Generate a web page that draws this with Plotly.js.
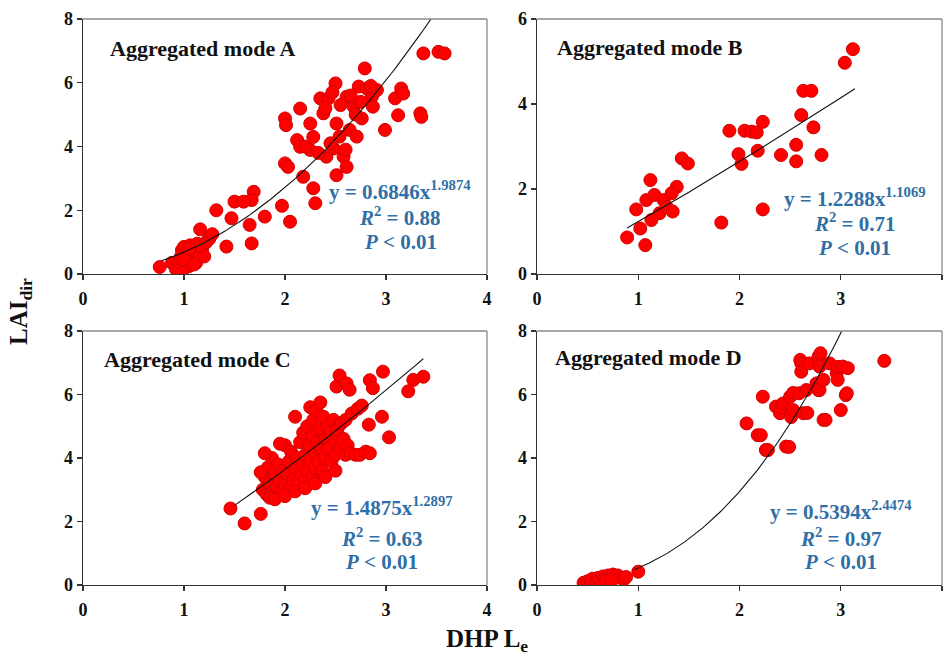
<!DOCTYPE html>
<html>
<head>
<meta charset="utf-8">
<script src="https://cdn.plot.ly/plotly-3.0.1.min.js"></script>
<style>
  html, body { margin: 0; padding: 0; background: #fff; }
  #chart { width: 945px; height: 666px; }
</style>
</head>
<body>
<div id="chart"></div>
<script>
// DHP effective LAI (Le) versus direct LAI, four aggregation modes

// Mode A
const modeA_x = [0.76, 0.88, 0.92, 0.95, 0.97, 0.98, 1.00, 1.00, 1.02, 1.03, 1.05, 1.06, 1.08, 1.10, 1.12, 1.13, 1.15, 1.18, 1.20, 1.22, 1.25, 1.28, 0.95, 1.00, 1.05, 1.10, 0.98, 1.16,
  1.32, 1.42, 1.47, 1.50, 1.65, 1.67, 1.69, 1.67, 1.59, 1.80, 1.97, 2.05, 2.00, 2.03, 2.00, 2.01, 2.15, 2.12, 2.15, 2.18, 2.25, 2.25, 2.28, 2.30,
  2.35, 2.38, 2.43, 2.41, 2.48, 2.50, 2.51, 2.51, 2.54, 2.58, 2.61, 2.61, 2.64, 2.68, 2.71, 2.73, 2.76, 2.79, 2.81, 2.86, 2.87, 2.91, 2.99,
  3.09, 3.12, 3.15, 3.17, 3.34, 3.35, 3.37, 3.52, 3.58,
  2.20, 2.28, 2.33, 2.45, 2.55, 2.65, 2.70, 2.75, 2.85, 2.40, 2.47, 2.60];
const modeA_y = [0.22, 0.35, 0.15, 0.30, 0.55, 0.75, 0.20, 0.85, 0.40, 0.65, 0.25, 0.90, 0.50, 0.70, 0.35, 0.95, 0.60, 0.80, 0.55, 1.00, 1.10, 1.25, 0.10, 0.45, 0.80, 0.30, 0.05, 1.40,
  2.00, 0.86, 1.75, 2.27, 1.54, 0.96, 2.58, 2.32, 2.27, 1.80, 2.14, 1.64, 3.47, 3.36, 4.88, 4.67, 5.19, 4.20, 3.99, 3.05, 3.89, 4.72, 2.69, 2.22,
  5.51, 5.04, 5.51, 3.68, 3.94, 5.98, 4.72, 3.10, 4.31, 3.68, 3.36, 5.56, 4.52, 5.25, 4.31, 5.88, 4.88, 6.45, 5.82, 5.56, 5.25, 5.77, 4.52,
  5.51, 4.98, 5.82, 5.66, 5.04, 4.93, 6.92, 6.97, 6.92,
  4.00, 4.30, 3.80, 4.10, 5.30, 5.60, 5.00, 5.40, 5.90, 5.20, 5.70, 3.90];

// Mode B
const modeB_x = [0.89, 1.07, 0.98, 1.02, 1.12, 1.08, 1.16, 1.21, 1.13, 1.25, 1.28, 1.34, 1.38, 1.33, 1.43, 1.49, 1.82, 1.90, 1.99, 2.02,
  2.05, 2.12, 2.17, 2.18, 2.23, 2.23, 2.41, 2.56, 2.56, 2.61, 2.63, 2.71, 2.73, 2.81, 3.04, 3.12];
const modeB_y = [0.86, 0.68, 1.52, 1.07, 2.21, 1.74, 1.86, 1.43, 1.27, 1.74, 1.58, 1.47, 2.05, 1.90, 2.72, 2.60, 1.21, 3.37, 2.82, 2.59,
  3.37, 3.35, 3.33, 2.90, 3.58, 1.52, 2.80, 3.04, 2.65, 3.74, 4.31, 4.31, 3.45, 2.80, 4.97, 5.29];

// Mode C
const modeC_x = [1.46, 1.60, 1.76,
  1.78, 1.80, 1.82, 1.83, 1.85, 1.87, 1.88, 1.90, 1.92, 1.93, 1.95, 1.96, 1.98, 2.00, 2.00, 1.80, 1.95, 1.76,
  2.02, 2.04, 2.05, 2.06, 2.08, 2.10, 2.10, 2.12, 2.13, 2.15, 2.16, 2.18, 2.18, 2.20, 2.20, 2.22, 2.22, 2.24, 2.25, 2.25,
  2.27, 2.27, 2.28, 2.30, 2.30, 2.31, 2.32, 2.33, 2.35, 2.35, 2.36, 2.37, 2.38, 2.40, 2.40,
  2.42, 2.43, 2.45, 2.46, 2.48, 2.50, 2.50, 2.52, 2.55, 2.56, 2.58, 2.60, 2.60, 2.62, 2.65, 2.66, 2.70, 2.74, 2.80, 2.84,
  2.72, 2.76, 2.83, 2.96, 3.03,
  2.51, 2.54, 2.61, 2.64, 2.84, 2.87, 2.97, 3.22, 3.27, 3.37,
  1.85, 1.90, 2.00, 2.10, 2.20, 2.30, 2.40, 2.50];
const modeC_y = [2.41, 1.94, 2.24,
  3.00, 3.40, 2.85, 3.70, 3.20, 4.00, 2.95, 3.50, 3.10, 3.80, 3.30, 2.90, 3.60, 3.15, 4.40, 4.15, 4.45, 3.55,
  3.50, 3.90, 3.00, 4.20, 3.30, 3.70, 5.30, 4.00, 3.20, 4.50, 3.50, 4.80, 3.80, 4.10, 3.30, 5.00, 3.60, 4.40, 5.60, 3.90,
  4.70, 3.40, 5.20, 4.20, 3.70, 5.50, 4.50, 3.90, 4.90, 5.75, 4.30, 3.60, 5.30, 4.60, 4.00,
  5.00, 4.30, 4.80, 3.90, 5.20, 4.50, 4.10, 4.90, 4.30, 5.10, 4.60, 4.10, 5.20, 4.40, 4.15, 5.40, 4.10, 4.10, 4.20, 4.15,
  5.55, 5.65, 5.05, 5.30, 4.65,
  6.25, 6.60, 6.35, 6.15, 6.45, 6.20, 6.72, 6.10, 6.46, 6.56,
  2.75, 2.70, 2.80, 2.95, 3.05, 3.20, 3.40, 3.60];

// Mode D
const modeD_x = [0.46, 0.50, 0.53, 0.55, 0.58, 0.60, 0.62, 0.65, 0.67, 0.70, 0.72, 0.75, 0.78, 0.80, 0.83, 0.86, 0.88, 0.68, 0.74, 1.00,
  2.07, 2.18, 2.21, 2.23, 2.26, 2.28, 2.36, 2.40, 2.41, 2.43, 2.46, 2.49, 2.50, 2.51, 2.53, 2.53, 2.59, 2.60, 2.61, 2.61, 2.63,
  2.66, 2.67, 2.69, 2.76, 2.78, 2.78, 2.79, 2.79, 2.80, 2.83, 2.83, 2.85, 2.89, 2.96, 2.97, 2.97, 3.00, 3.02, 3.05, 3.06, 3.07, 3.43];
const modeD_y = [0.07, 0.12, 0.10, 0.20, 0.15, 0.22, 0.18, 0.27, 0.20, 0.30, 0.25, 0.33, 0.28, 0.30, 0.22, 0.18, 0.25, 0.12, 0.15, 0.42,
  5.09, 4.72, 4.72, 5.93, 4.25, 4.25, 5.62, 5.41, 5.60, 5.72, 4.36, 4.35, 5.93, 5.29, 5.51, 6.05, 6.04, 7.09, 6.98, 6.72, 5.41,
  6.14, 5.42, 6.98, 6.35, 7.19, 6.14, 6.88, 6.14, 7.30, 5.20, 6.46, 5.20, 6.98, 6.67, 6.87, 6.46, 5.51, 6.88, 5.98, 6.04, 6.83, 7.06];

// Power-law fits y = a * x^b : [a, b], and the x span each curve covers
const fitCoef = { A: [0.6846, 1.9874], B: [1.2288, 1.1069], C: [1.4875, 1.2897], D: [0.5394, 2.4474] };
const fitSpan = { A: [0.78, 3.45], B: [0.89, 3.14], C: [1.50, 3.37], D: [0.95, 3.01] };
const r2Text = { A: '0.88', B: '0.71', C: '0.63', D: '0.97' };

const panelNames = ['A', 'B', 'C', 'D'];
const panelData = { A: [modeA_x, modeA_y], B: [modeB_x, modeB_y], C: [modeC_x, modeC_y], D: [modeD_x, modeD_y] };
const axisSuffix = { A: '', B: '2', C: '3', D: '4' };

const serif = "'Liberation Serif', 'Times New Roman', serif";
const eqBlue = '#2f6fa6';

function fitCurve(k) {
  const [a, b] = fitCoef[k];
  const [x0, x1] = fitSpan[k];
  const xs = [], ys = [];
  const n = 120;
  for (let i = 0; i <= n; i++) {
    const x = x0 + (x1 - x0) * i / n;
    xs.push(x);
    ys.push(a * Math.pow(x, b));
  }
  return [xs, ys];
}

const traces = [];
panelNames.forEach(k => {
  const s = axisSuffix[k];
  traces.push({
    type: 'scatter', mode: 'markers',
    x: panelData[k][0], y: panelData[k][1],
    xaxis: 'x' + s, yaxis: 'y' + s,
    marker: { color: '#ff0000', size: 13, line: { color: '#d40000', width: 1 } },
    hoverinfo: 'x+y', showlegend: false
  });
  const [cx, cy] = fitCurve(k);
  traces.push({
    type: 'scatter', mode: 'lines',
    x: cx, y: cy,
    xaxis: 'x' + s, yaxis: 'y' + s,
    line: { color: '#111', width: 1.1 },
    hoverinfo: 'skip', showlegend: false
  });
});

// panel frames in pixel space
const W = 945, H = 666;
const colX = [[83, 487], [537, 942]];
const rowY = [[19, 274], [331, 585]];
const yMax = { A: 8, B: 6, C: 8, D: 8 };

function axisCommon() {
  return {
    range: [0, 4], tickvals: [0, 1, 2, 3, 4], ticktext: ['0', '1', '2', '3', '4'],
    showgrid: false, zeroline: false, showline: true, linecolor: '#333', linewidth: 1.4,
    ticks: 'outside', ticklen: 5, tickwidth: 1.2, tickcolor: '#333',
    tickfont: { family: serif, size: 18, color: '#111', weight: 'bold' },
    ticklabelstandoff: 3, fixedrange: true
  };
}

const layout = {
  width: W, height: H,
  margin: { l: 0, r: 0, t: 0, b: 0 },
  paper_bgcolor: '#fff', plot_bgcolor: '#fff',
  showlegend: false,
  annotations: [], shapes: []
};

panelNames.forEach((k, i) => {
  const s = axisSuffix[k];
  const col = colX[i % 2], row = rowY[Math.floor(i / 2)];
  const xa = axisCommon();
  xa.domain = [col[0] / W, col[1] / W];
  xa.anchor = 'y' + s;
  const ya = axisCommon();
  ya.range = [0, yMax[k]];
  ya.tickvals = [];
  ya.ticktext = [];
  for (let v = 0; v <= yMax[k]; v += 2) { ya.tickvals.push(v); ya.ticktext.push(String(v)); }
  ya.domain = [1 - row[1] / H, 1 - row[0] / H];
  ya.anchor = 'x' + s;
  ya.ticklabelstandoff = 0;
  layout['xaxis' + s] = xa;
  layout['yaxis' + s] = ya;

  // light top and right frame edges
  layout.shapes.push({ type: 'line', xref: 'x' + s + ' domain', yref: 'y' + s + ' domain', x0: 0, x1: 1, y0: 1, y1: 1, line: { color: '#8a8a8a', width: 1.3 } });
  layout.shapes.push({ type: 'line', xref: 'x' + s + ' domain', yref: 'y' + s + ' domain', x0: 1, x1: 1, y0: 0, y1: 1, line: { color: '#8a8a8a', width: 1.3 } });
});

// panel labels and fit statistics
const titlePos = { A: [0.25, 7.08], B: [0.18, 5.34], C: [0.19, 7.09], D: [0.16, 7.15] };
const statPos = {
  A: [3.14, 2.63, 1.79, 1.00],
  B: [3.14, 1.81, 1.20, 0.61],
  C: [2.96, 2.46, 1.51, 0.72],
  D: [3.00, 2.36, 1.51, 0.72]
};
panelNames.forEach(k => {
  const s = axisSuffix[k];
  const [a, b] = fitCoef[k];
  layout.annotations.push({
    xref: 'x' + s, yref: 'y' + s, x: titlePos[k][0], y: titlePos[k][1],
    xanchor: 'left', yanchor: 'middle', showarrow: false,
    text: 'Aggregated mode ' + k,
    font: { family: serif, size: 22, color: '#111', weight: 'bold' }
  });
  const [sx, y1, y2, y3] = statPos[k];
  const lines = [
    [y1, 'y = ' + a.toFixed(4) + 'x<sup>' + b.toFixed(4) + '</sup>'],
    [y2, '<i>R</i><sup>2</sup> = ' + r2Text[k]],
    [y3, '<i>P</i> &lt; 0.01']
  ];
  lines.forEach(([yy, t]) => {
    layout.annotations.push({
      xref: 'x' + s, yref: 'y' + s, x: sx, y: yy,
      xanchor: 'center', yanchor: 'middle', showarrow: false,
      text: t,
      font: { family: serif, size: 21, color: eqBlue, weight: 'bold' }
    });
  });
});

// shared axis titles
layout.annotations.push({
  xref: 'paper', yref: 'paper', x: 20 / W, y: 1 - 312 / H,
  xanchor: 'center', yanchor: 'middle', textangle: -90, showarrow: false,
  text: 'LAI<sub>dir</sub>',
  font: { family: serif, size: 25, color: '#111', weight: 'bold' }
});
layout.annotations.push({
  xref: 'paper', yref: 'paper', x: 487 / W, y: 1 - 640 / H,
  xanchor: 'center', yanchor: 'middle', showarrow: false,
  text: 'DHP L<sub>e</sub>',
  font: { family: serif, size: 25, color: '#111', weight: 'bold' }
});

Plotly.newPlot('chart', traces, layout, { displayModeBar: false, staticPlot: true });
</script>
</body>
</html>
